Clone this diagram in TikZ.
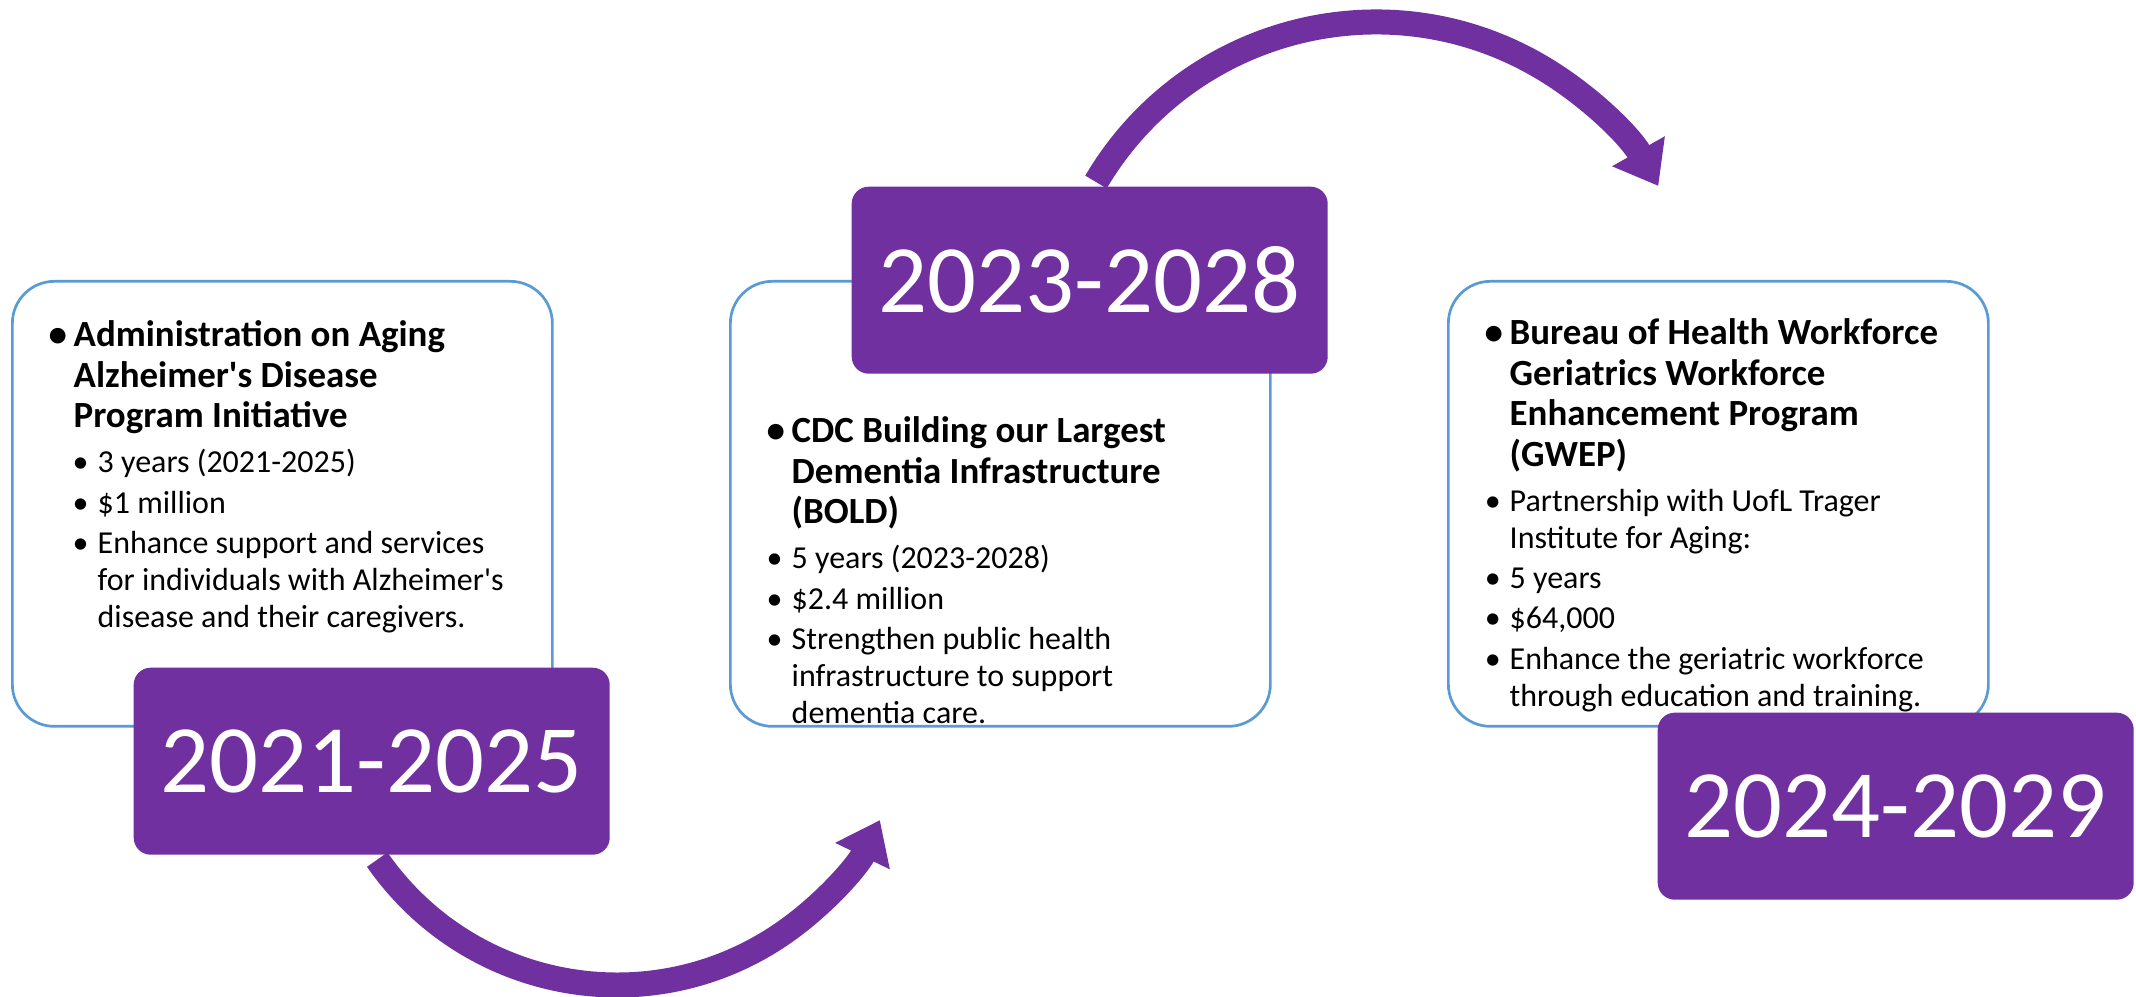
\documentclass[tikz,border=0pt]{standalone}
\usepackage{fontspec}
\setmainfont{Carlito}
\usetikzlibrary{arrows.meta}

\definecolor{agepurple}{RGB}{112,48,160}
\definecolor{cardblue}{RGB}{91,155,213}

% bullet lines inside the cards
\newcommand{\headline}[1]{\par\leftskip=0pt\relax\fontsize{10.5}{11.5}\selectfont\bfseries
  \noindent\llap{\makebox[0.32cm]{\textbullet}}#1\par\vspace{0.045cm}}
\newcommand{\subline}[2][0pt]{\par\vspace{0.035cm}\leftskip=#1\relax\fontsize{9.1}{10.5}\selectfont\mdseries
  \noindent\llap{\makebox[0.34cm]{\textbullet}}#2\par}
\newcommand{\cardtext}[1]{\vtop{\hsize=4.8cm\parindent=0pt\parskip=0pt\raggedright #1}}

\begin{document}
\begin{tikzpicture}[
  card/.style={draw=cardblue, line width=0.77pt, fill=white, rounded corners=0.42cm,
    minimum width=5.40cm, minimum height=4.45cm, inner sep=0pt, anchor=north west},
  yearbox/.style={fill=agepurple, rounded corners=0.17cm, minimum width=4.76cm,
    minimum height=1.87cm, inner sep=0pt, anchor=north west, text=white,
    font=\fontsize{27.5}{30}\selectfont},
  cardtxt/.style={inner sep=0pt, anchor=base west},
  flow/.style={draw=agepurple, line width=0.25cm, -{Triangle[width=0.58cm, length=0.40cm]}}
]
  % Parameters
  \def\ra{2.92} % radius of lower arrow
  \def\rb{3.25} % radius of upper arrow

  % canvas
  \useasboundingbox (0,0) rectangle (21.36,-9.97);
  \fill[white] (0,0) rectangle (21.36,-9.97);

  % white cards
  \node[card] (card1) at (0.11,-2.80) {};
  \node[card] (card2) at (7.29,-2.80) {};
  \node[card] (card3) at (14.47,-2.80) {};

  % card texts
  \node[cardtxt] (text1) at ([shift={(0.62,-0.67)}]card1.north west) {\cardtext{%
    \headline{Administration on Aging\\Alzheimer\textquotesingle s Disease\\Program Initiative}
    \subline[0.24cm]{3 years (2021-2025)}
    \subline[0.24cm]{\$1 million}
    \subline[0.24cm]{Enhance support and services\\for individuals with Alzheimer\textquotesingle s\\disease and their caregivers.}}};
  \node[cardtxt] (text2) at ([shift={(0.62,-1.63)}]card2.north west) {\cardtext{%
    \headline{CDC Building our Largest\\Dementia Infrastructure\\(BOLD)}
    \subline{5 years (2023-2028)}
    \subline{\$2.4 million}
    \subline{Strengthen public health\\infrastructure to support\\dementia care.}}};
  \node[cardtxt] (text3) at ([shift={(0.62,-0.65)}]card3.north west) {\cardtext{%
    \headline{Bureau of Health Workforce\\Geriatrics Workforce\\Enhancement Program\\(GWEP)}
    \subline{Partnership with UofL Trager\\Institute for Aging:}
    \subline{5 years}
    \subline{\$64,000}
    \subline{Enhance the geriatric workforce\\through education and training.}}};

  % curved arrows between the periods
  \coordinate (lowstart) at ([shift={(214.8:\ra)}]6.17,-6.93);
  \draw[flow] (lowstart) arc[start angle=214.8, end angle=334.2, radius=\ra];
  \coordinate (upstart) at ([shift={(149.5:\rb)}]13.76,-3.47);
  \draw[flow] (upstart) arc[start angle=149.5, end angle=29.7, radius=\rb];

  % year boxes
  \node[yearbox] (year1) at (1.33,-6.67) {2021-2025};
  \node[yearbox] (year2) at (8.51,-1.86) {2023-2028};
  \node[yearbox] (year3) at (16.57,-7.12) {2024-2029};
\end{tikzpicture}
\end{document}
